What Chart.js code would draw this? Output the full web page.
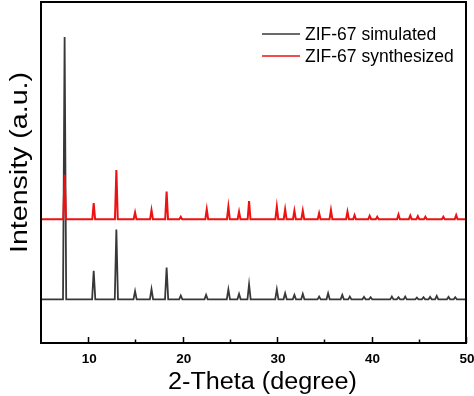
<!DOCTYPE html>
<html>
<head>
<meta charset="utf-8">
<script src="https://cdn.jsdelivr.net/npm/chart.js@4/dist/chart.umd.min.js"></script>
<style>
html,body{margin:0;padding:0;background:#fff;}
#c{display:block;}
</style>
</head>
<body>
<canvas id="c" width="474" height="396"></canvas>
<script>
// ---- data ----
const seriesLabels = ["ZIF-67 simulated", "ZIF-67 synthesized"];
const xTickLabels = [10, 20, 30, 40, 50];
const xMinorTicks = [15, 25, 35, 45];

// simulated pattern: peak positions (2-theta) and peak tops (plot units), baseline
const simPos = [7.5, 10.58, 12.98, 14.96, 16.7, 18.3, 19.8, 22.48, 24.84, 25.97, 27.03, 29.97, 30.85, 31.83, 32.72, 34.45, 35.4, 36.9, 37.7, 39.2, 39.9, 42.15, 42.85, 43.56, 44.8, 45.5, 46.2, 46.9, 48.15, 48.86];
const simTop = [89.7, 21.2, 33.3, 15.2, 15.8, 22.1, 13.9, 14.1, 15.7, 14.4, 17.2, 15.7, 14.6, 14.1, 14.4, 13.6, 14.6, 14.1, 13.6, 13.5, 13.4, 13.6, 13.4, 13.6, 13.3, 13.4, 13.5, 13.8, 13.5, 13.4];
const simBase = 12.8;

// synthesized pattern
const synPos = [7.5, 10.58, 12.98, 14.96, 16.7, 18.3, 19.8, 22.55, 24.84, 25.97, 27.03, 29.97, 30.85, 31.83, 32.72, 34.45, 35.7, 37.45, 38.2, 39.8, 40.6, 42.85, 44.1, 44.9, 45.7, 47.6, 48.96];
const synTop = [49.3, 41.0, 50.7, 38.3, 39.0, 44.4, 37.0, 39.2, 40.0, 38.5, 41.6, 40.0, 39.2, 38.8, 38.8, 38.1, 39.0, 38.5, 37.5, 37.3, 37.0, 37.7, 37.4, 37.2, 37.0, 37.0, 37.5];
const synBase = 36.3;

const xMin = 5, xMax = 50;

// build line points (baseline - top - baseline for each peak)
function buildPattern(pos, top, base, hw) {
  const pts = [{x: xMin, y: base}];
  for (let i = 0; i < pos.length; i++) {
    pts.push({x: pos[i] - hw, y: base});
    pts.push({x: pos[i], y: top[i]});
    pts.push({x: pos[i] + hw, y: base});
  }
  pts.push({x: xMax, y: base});
  return pts;
}

const FONT = '"Liberation Sans", Arial, Helvetica, sans-serif';

const decor = {
  id: 'decor',
  afterDraw(chart) {
    const ctx = chart.ctx;
    const a = chart.chartArea;
    const xs = chart.scales.x;
    ctx.save();
    // frame
    ctx.strokeStyle = '#000';
    ctx.lineWidth = 2;
    ctx.strokeRect(a.left, a.top, a.right - a.left, a.bottom - a.top);
    // inward ticks
    ctx.lineWidth = 1.5;
    ctx.beginPath();
    xTickLabels.forEach(v => {
      const px = Math.round(xs.getPixelForValue(v)) + 0.5;
      ctx.moveTo(px, a.bottom); ctx.lineTo(px, a.bottom - 6);
    });
    xMinorTicks.forEach(v => {
      const px = Math.round(xs.getPixelForValue(v)) + 0.5;
      ctx.moveTo(px, a.bottom); ctx.lineTo(px, a.bottom - 3.5);
    });
    ctx.stroke();
    // tick labels
    ctx.fillStyle = '#000';
    ctx.font = 'bold 13.5px ' + FONT;
    ctx.textAlign = 'center';
    ctx.textBaseline = 'alphabetic';
    xTickLabels.forEach(v => {
      ctx.fillText(String(v), xs.getPixelForValue(v) + 1, 362.5);
    });
    // x title
    ctx.font = '23.5px ' + FONT;
    const xt = '2-Theta (degree)';
    const xw = ctx.measureText(xt).width;
    ctx.save();
    ctx.translate(262.5, 388.5);
    ctx.scale(189 / xw, 1);
    ctx.fillText(xt, 0, 0);
    ctx.restore();
    // y title
    ctx.font = '23.5px ' + FONT;
    const yt = 'Intensity (a.u.)';
    const yw = ctx.measureText(yt).width;
    ctx.save();
    ctx.translate(26.5, 162.5);
    ctx.rotate(-Math.PI / 2);
    ctx.scale(181 / yw, 1);
    ctx.textAlign = 'center';
    ctx.fillText(yt, 0, 0);
    ctx.restore();
    // legend
    ctx.font = '17.5px ' + FONT;
    ctx.textAlign = 'left';
    const rows = [34, 56];
    chart.data.datasets.forEach((ds, i) => {
      ctx.strokeStyle = ds.borderColor;
      ctx.lineWidth = 1.5;
      ctx.beginPath();
      ctx.moveTo(262, rows[i]); ctx.lineTo(300, rows[i]);
      ctx.stroke();
      ctx.fillStyle = '#000';
      ctx.fillText(ds.label, 305, rows[i] + 6);
    });
    ctx.restore();
  }
};

new Chart(document.getElementById('c'), {
  type: 'line',
  data: {
    datasets: [
      {label: seriesLabels[0], data: buildPattern(simPos, simTop, simBase, 0.17), borderColor: '#383838', borderWidth: 1.8, order: 1},
      {label: seriesLabels[1], data: buildPattern(synPos, synTop, synBase, 0.15), borderColor: '#ee1111', borderWidth: 2, order: 0}
    ]
  },
  options: {
    responsive: false,
    devicePixelRatio: 1,
    animation: false,
    layout: {padding: {left: 41, right: 8, top: 2, bottom: 53}},
    elements: {point: {radius: 0}, line: {tension: 0}},
    plugins: {legend: {display: false}, tooltip: {enabled: false}},
    scales: {
      x: {type: 'linear', min: xMin, max: xMax, display: false},
      y: {min: 0, max: 100, display: false}
    }
  },
  plugins: [decor]
});
</script>
</body>
</html>
